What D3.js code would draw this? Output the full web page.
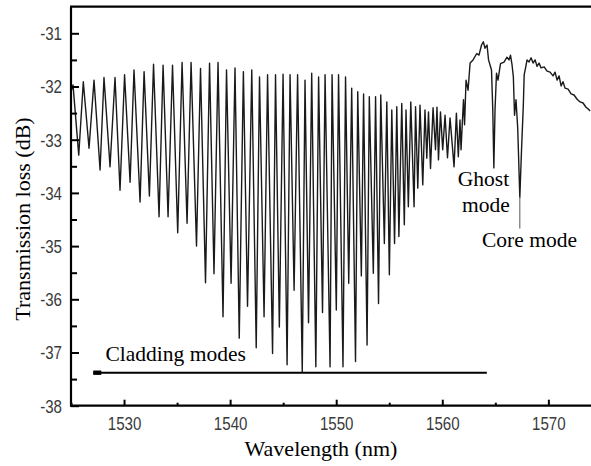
<!DOCTYPE html>
<html>
<head>
<meta charset="utf-8">
<script src="https://cdn.jsdelivr.net/npm/d3@7/dist/d3.min.js"></script>
<style>
  html, body { margin: 0; padding: 0; background: #fff; }
  svg { display: block; }
</style>
</head>
<body>
<svg id="chart" width="591" height="466"></svg>
<script>
// ---- data ----
const wavelength = [1525.00,1525.19,1525.73,1526.16,1526.70,1527.17,1527.74,1528.11,1528.68,1529.15,
  1529.62,1530.05,1530.57,1530.94,1531.51,1531.89,1532.39,1532.78,1533.30,1533.68,
  1534.15,1534.57,1535.06,1535.47,1535.94,1536.32,1536.83,1537.21,1537.68,1538.06,
  1538.48,1538.86,1539.33,1539.66,1540.09,1540.46,1540.86,1541.25,1541.64,1542.04,
  1542.46,1542.77,1543.20,1543.53,1544.00,1544.28,1544.64,1544.99,1545.37,1545.65,
  1546.03,1546.36,1546.80,1547.06,1547.39,1547.69,1548.08,1548.34,1548.71,1548.95,
  1549.42,1549.61,1550.01,1550.22,1550.64,1550.88,1551.18,1551.46,1551.82,1552.03,
  1552.37,1552.58,1552.91,1553.12,1553.50,1553.71,1553.99,1554.20,1554.54,1554.77,
  1555.01,1555.24,1555.50,1555.71,1555.91,1556.18,1556.42,1556.58,1556.80,1557.03,
  1557.34,1557.48,1557.69,1557.90,1558.16,1558.37,1558.54,1558.70,1558.89,1559.13,
  1559.36,1559.50,1559.64,1559.83,1560.04,1560.26,1560.49,1560.73,1561.11,1561.33,
  1561.51,1561.67,1561.77,1561.91,1562.00,1562.10,1562.24,1562.43,1562.62,1562.90,
  1563.25,1563.46,1563.70,1563.87,1564.03,1564.22,1564.36,1564.64,1564.76,1564.86,
  1564.97,1565.11,1565.25,1565.49,1565.82,1566.10,1566.29,1566.43,1566.58,1566.70,
  1566.81,1566.95,1567.11,1567.31,1567.47,1567.64,1567.72,1567.85,1567.99,1568.18,
  1568.37,1568.56,1568.75,1568.93,1569.12,1569.31,1569.60,1569.88,1570.16,1570.44,
  1570.63,1570.82,1571.01,1571.20,1571.38,1571.57,1571.86,1572.14,1572.42,1572.71,
  1572.99,1573.27,1573.55,1573.74,1573.93];
const loss = [-32.10,-31.97,-33.29,-31.91,-33.16,-31.88,-33.57,-31.83,-33.51,-31.83,
  -33.95,-31.78,-33.80,-31.69,-34.17,-31.72,-34.06,-31.58,-34.45,-31.60,
  -34.45,-31.60,-34.75,-31.55,-34.57,-31.55,-35.00,-31.66,-35.69,-31.56,
  -35.52,-31.55,-36.33,-31.69,-35.70,-31.65,-36.73,-31.72,-36.13,-31.69,
  -36.91,-31.82,-36.33,-31.78,-37.02,-31.78,-36.52,-31.77,-37.23,-31.78,
  -35.83,-31.78,-37.36,-31.88,-36.44,-31.75,-37.27,-31.82,-36.25,-31.78,
  -37.27,-31.78,-36.20,-31.78,-37.27,-31.82,-35.70,-32.03,-37.17,-32.10,
  -35.56,-32.14,-36.86,-32.19,-35.51,-32.19,-36.08,-32.16,-34.95,-32.29,
  -35.54,-32.44,-34.95,-32.38,-34.82,-32.32,-34.60,-32.44,-34.26,-32.29,
  -34.26,-32.38,-33.91,-32.35,-33.85,-32.44,-33.35,-32.48,-33.54,-32.40,
  -33.19,-32.39,-33.38,-32.48,-33.19,-32.54,-33.34,-32.59,-33.51,-32.50,
  -33.32,-32.63,-33.19,-32.59,-32.25,-32.72,-31.88,-32.07,-31.56,-31.50,
  -31.38,-31.41,-31.22,-31.16,-31.28,-31.22,-31.50,-31.69,-32.44,-33.53,
  -32.44,-31.75,-31.88,-31.57,-31.54,-31.45,-31.50,-31.41,-31.60,-31.82,
  -32.54,-32.25,-32.78,-34.08,-33.19,-32.35,-31.78,-31.65,-31.50,-31.54,
  -31.46,-31.56,-31.50,-31.62,-31.56,-31.65,-31.63,-31.71,-31.73,-31.80,
  -31.73,-31.88,-31.80,-31.99,-31.91,-32.03,-32.05,-32.14,-32.16,-32.24,
  -32.29,-32.31,-32.39,-32.42,-32.46];

const xTicks = [1530, 1540, 1550, 1560, 1570];
const xMinorTicks = [1525, 1535, 1545, 1555, 1565];
const yTicks = [-38, -37, -36, -35, -34, -33, -32, -31];
const yMinorTicks = [-37.5, -36.5, -35.5, -34.5, -33.5, -32.5, -31.5];

const xTitle = "Wavelength (nm)";
const yTitle = "Transmission loss (dB)";
const ghostLabel = ["Ghost", "mode"];
const coreLabel = "Core mode";
const claddingLabel = "Cladding modes";
// annotation anchors in data units
const coreDip = [1567.31, -34.08];
const coreLeaderEnd = -34.67;
const claddingArrow = { from: 1564.2, to: 1527.1, at: -37.38 };

// ---- layout ----
const svg = d3.select("#chart");
const pLeft = 71, pRight = 590.8, pTop = 6.7, pBottom = 405.7;

const x = d3.scaleLinear().domain([1525, 1574]).range([pLeft, pRight]);
const y = d3.scaleLinear().domain([-38, -30.5]).range([pBottom, pTop]);

const serif = "'Liberation Serif', 'Times New Roman', serif";
const sans = "'Liberation Sans', Arial, sans-serif";
const condense = 0.84;

// spectrum line
const pts = wavelength.map((w, i) => [w, loss[i]]);
svg.append("path")
  .datum(pts)
  .attr("fill", "none")
  .attr("stroke", "#1a1a1a")
  .attr("stroke-width", 1.4)
  .attr("stroke-linejoin", "round")
  .attr("d", d3.line().x(d => x(d[0])).y(d => y(d[1])));

// core-mode leader line
svg.append("line")
  .attr("x1", x(coreDip[0])).attr("x2", x(coreDip[0]))
  .attr("y1", y(coreDip[1])).attr("y2", y(coreLeaderEnd))
  .attr("stroke", "#555").attr("stroke-width", 1);

// axes
const yAxis = d3.axisLeft(y).tickValues(yTicks).tickSize(-8).tickPadding(9)
  .tickFormat(d => String(d));
const yMinor = d3.axisLeft(y).tickValues(yMinorTicks).tickSize(-6).tickFormat("");
const xAxis = d3.axisBottom(x).tickValues(xTicks).tickSize(-6).tickPadding(0)
  .tickFormat(d => String(d));
const xMinor = d3.axisBottom(x).tickValues(xMinorTicks).tickSize(-3).tickFormat("");

function styleAxis(g) {
  g.select(".domain").remove();
  g.selectAll(".tick line").attr("stroke", "#000").attr("stroke-width", 2);
}

const gy = svg.append("g").attr("transform", `translate(${pLeft},0)`).call(yAxis).call(styleAxis);
svg.append("g").attr("transform", `translate(${pLeft},0)`).call(yMinor).call(styleAxis);
gy.selectAll(".tick text")
  .attr("font-family", sans).attr("font-size", 18).attr("fill", "#3a3a3a")
  .attr("x", -9 / condense).attr("dy", "0.36em")
  .attr("transform", `scale(${condense},1)`);

const gx = svg.append("g").attr("transform", `translate(0,${pBottom})`).call(xAxis).call(styleAxis);
svg.append("g").attr("transform", `translate(0,${pBottom})`).call(xMinor).call(styleAxis);
gx.selectAll(".tick text")
  .attr("font-family", sans).attr("font-size", 18).attr("fill", "#3a3a3a")
  .attr("y", 24.5).attr("dy", 0)
  .attr("transform", `scale(${condense},1)`);

// frame lines: left, bottom, top
svg.append("line").attr("x1", pLeft).attr("x2", pLeft).attr("y1", pTop).attr("y2", pBottom + 1)
  .attr("stroke", "#000").attr("stroke-width", 2.2);
svg.append("line").attr("x1", pLeft - 1).attr("x2", 591).attr("y1", pBottom).attr("y2", pBottom)
  .attr("stroke", "#000").attr("stroke-width", 2.2);
svg.append("line").attr("x1", pLeft - 1).attr("x2", 591).attr("y1", pTop).attr("y2", pTop)
  .attr("stroke", "#000").attr("stroke-width", 2.2);

// axis titles
svg.append("text").text(xTitle)
  .attr("x", 321).attr("y", 456)
  .attr("text-anchor", "middle").attr("font-family", serif).attr("font-size", 22).attr("fill", "#000");
svg.append("text").text(yTitle)
  .attr("transform", `translate(30,219) rotate(-90)`)
  .attr("text-anchor", "middle").attr("font-family", serif).attr("font-size", 22).attr("fill", "#000");

// annotations
svg.append("text").text(ghostLabel[0])
  .attr("x", 483.5).attr("y", 185.5).attr("text-anchor", "middle")
  .attr("font-family", serif).attr("font-size", 21.5).attr("fill", "#000");
svg.append("text").text(ghostLabel[1])
  .attr("x", 486).attr("y", 212).attr("text-anchor", "middle")
  .attr("font-family", serif).attr("font-size", 21.5).attr("fill", "#000");
svg.append("text").text(coreLabel)
  .attr("x", 482).attr("y", 246.5)
  .attr("font-family", serif).attr("font-size", 21.5).attr("fill", "#000");
svg.append("text").text(claddingLabel)
  .attr("x", 105.5).attr("y", 361)
  .attr("font-family", serif).attr("font-size", 21.5).attr("fill", "#000");

// cladding-modes arrow
const ay = y(claddingArrow.at);
svg.append("line")
  .attr("x1", x(claddingArrow.to)).attr("x2", x(claddingArrow.from))
  .attr("y1", ay).attr("y2", ay)
  .attr("stroke", "#000").attr("stroke-width", 2);
svg.append("rect")
  .attr("x", x(claddingArrow.to)).attr("y", ay - 2.2)
  .attr("width", 8).attr("height", 4.4)
  .attr("fill", "#000");
</script>
</body>
</html>
